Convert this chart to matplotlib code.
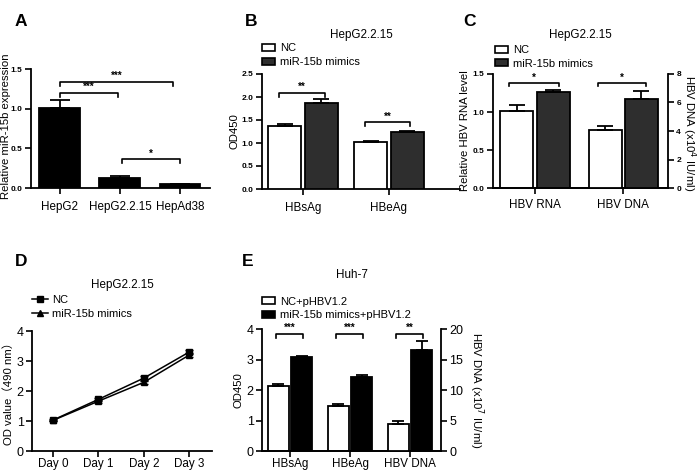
import numpy as np
import matplotlib
matplotlib.use("Agg")
import matplotlib.pyplot as plt
from matplotlib.patches import Patch
from matplotlib.lines import Line2D

plt.rcParams["font.family"] = ["Liberation Sans", "Noto Sans CJK SC", "DejaVu Sans"]

W, H = 697, 473

# ---- data ----
a_cats = ["HepG2", "HepG2.2.15", "HepAd38"]
a_vals = [1.01, 0.125, 0.046]
a_errs = [0.095, 0.02, 0.008]

b_cats = ["HBsAg", "HBeAg"]
b_nc = [1.38, 1.03]
b_nc_err = [0.04, 0.02]
b_mim = [1.87, 1.23]
b_mim_err = [0.08, 0.03]

c_cats = ["HBV RNA", "HBV DNA"]
c_rna_nc, c_rna_nc_err = 1.01, 0.08
c_rna_mim, c_rna_mim_err = 1.26, 0.03
c_dna_nc, c_dna_nc_err = 4.08, 0.25
c_dna_mim, c_dna_mim_err = 6.25, 0.55

d_days = ["Day 0", "Day 1", "Day 2", "Day 3"]
d_nc = [1.03, 1.72, 2.43, 3.30]
d_nc_err = [0.03, 0.06, 0.06, 0.08]
d_mim = [1.02, 1.66, 2.29, 3.20]
d_mim_err = [0.03, 0.05, 0.06, 0.07]

e_cats = ["HBsAg", "HBeAg", "HBV DNA"]
e_nc = [2.12, 1.48]
e_nc_err = [0.09, 0.05]
e_mim = [3.08, 2.44]
e_mim_err = [0.05, 0.05]
e_dna_nc, e_dna_nc_err = 4.45, 0.5
e_dna_mim, e_dna_mim_err = 16.5, 1.6

DARK = "#2e2e2e"


def rect(l, t, r, b):
    return [l / W, 1 - b / H, (r - l) / W, (b - t) / H]


def style(ax, right=False, tsize=6, bold=True, xpad=5):
    ax.spines["top"].set_visible(False)
    if not right:
        ax.spines["right"].set_visible(False)
    for s in ax.spines.values():
        s.set_linewidth(1.3)
    ax.tick_params(direction="out", length=4, width=1.2, labelsize=tsize, pad=2)
    ax.tick_params(axis="x", labelsize=8.4, pad=xpad)
    if bold:
        for lb in ax.get_yticklabels():
            lb.set_fontweight("bold")


def bracket(ax, x0, x1, y, drop, stars, fs=7):
    ax.plot([x0, x0, x1, x1], [y - drop, y, y, y - drop], color="black", lw=1.2,
            clip_on=False, zorder=5)
    ax.annotate(stars, ((x0 + x1) / 2, y), xytext=(0, 0.5), textcoords="offset points",
                ha="center", va="bottom", fontsize=fs, fontweight="bold")


def ebar(ax, x, y, err, cap):
    ax.errorbar(x, y, yerr=[[0] * len(np.atleast_1d(y)), np.atleast_1d(err)], fmt="none",
                ecolor="black", elinewidth=1.3, capsize=cap, capthick=1.3, zorder=4)


def box_legend(ax, labels, colors, y_anchor, x_anchor=0.0):
    ax.legend(handles=[Patch(facecolor=c, edgecolor="black", lw=1.2, label=l)
                       for l, c in zip(labels, colors)],
              loc="lower left", bbox_to_anchor=(x_anchor, y_anchor), frameon=False,
              fontsize=8, handlelength=1.2, handleheight=0.6, handletextpad=0.45,
              labelspacing=0.35, borderaxespad=0, borderpad=0)


fig = plt.figure(figsize=(W / 100, H / 100), dpi=100)

# ---------- A ----------
ax = fig.add_axes(rect(31, 69, 210, 188))
xa = np.arange(3)
ax.bar(xa, a_vals, width=0.68, color="black", edgecolor="black", lw=1.3, zorder=3)
ebar(ax, xa, a_vals, a_errs, 7)
ax.set_xlim(-0.48, 2.5)
ax.set_ylim(0, 1.5)
ax.set_yticks([0, 0.5, 1.0, 1.5])
ax.set_yticklabels(["0.0", "0.5", "1.0", "1.5"])
ax.set_xticks(xa)
ax.set_xticklabels(a_cats)
ax.set_ylabel("Relative miR-15b expression", fontsize=8.2, va="center")
ax.yaxis.set_label_coords(-0.14, 0.52)
style(ax, xpad=5)
bracket(ax, 0, 1.88, 1.34, 0.05, "***")
bracket(ax, 0, 0.97, 1.20, 0.05, "***")
bracket(ax, 1.03, 2.0, 0.365, 0.05, "*")
fig.text(21 / W, 1 - 21 / H, "A", fontsize=12.5, fontweight="bold", va="center", ha="center")

# ---------- B ----------
ax = fig.add_axes(rect(262, 74, 460, 189))
xb = np.arange(2)
bw, off = 0.384, 0.215
ax.bar(xb - off, b_nc, width=bw, color="white", edgecolor="black", lw=1.3, zorder=3)
ax.bar(xb + off, b_mim, width=bw, color=DARK, edgecolor="black", lw=1.3, zorder=3)
ebar(ax, xb - off, b_nc, b_nc_err, 5.5)
ebar(ax, xb + off, b_mim, b_mim_err, 5.5)
ax.set_xlim(-0.477, 1.826)
ax.set_ylim(0, 2.5)
ax.set_yticks([0, 0.5, 1.0, 1.5, 2.0, 2.5])
ax.set_yticklabels(["0.0", "0.5", "1.0", "1.5", "2.0", "2.5"])
ax.set_xticks(xb)
ax.set_xticklabels(b_cats)
ax.set_ylabel("OD450", fontsize=8.2, labelpad=2)
style(ax, xpad=5)
bracket(ax, -0.28, 0.25, 2.09, 0.09, "**")
bracket(ax, 1 - 0.28, 1.25, 1.45, 0.07, "**")
ax.set_title("HepG2.2.15", fontsize=8.4, pad=26)
box_legend(ax, ["NC", "miR-15b mimics"], ["white", DARK], 1.06)
fig.text(251 / W, 1 - 21 / H, "B", fontsize=12.5, fontweight="bold", va="center", ha="center")

# ---------- C ----------
ax = fig.add_axes(rect(493, 74, 668, 188))
ax2 = ax.twinx()
bw, off = 0.375, 0.205
ax.bar([0 - off], [c_rna_nc], width=bw, color="white", edgecolor="black", lw=1.3, zorder=3)
ax.bar([0 + off], [c_rna_mim], width=bw, color=DARK, edgecolor="black", lw=1.3, zorder=3)
ebar(ax, [0 - off], [c_rna_nc], [c_rna_nc_err], 5.5)
ebar(ax, [0 + off], [c_rna_mim], [c_rna_mim_err], 5.5)
ax2.bar([1 - off], [c_dna_nc], width=bw, color="white", edgecolor="black", lw=1.3, zorder=3)
ax2.bar([1 + off], [c_dna_mim], width=bw, color=DARK, edgecolor="black", lw=1.3, zorder=3)
ebar(ax2, [1 - off], [c_dna_nc], [c_dna_nc_err], 5.5)
ebar(ax2, [1 + off], [c_dna_mim], [c_dna_mim_err], 5.5)
ax.set_xlim(-0.477, 1.51)
ax.set_ylim(0, 1.5)
ax2.set_ylim(0, 8)
ax.set_yticks([0, 0.5, 1.0, 1.5])
ax.set_yticklabels(["0.0", "0.5", "1.0", "1.5"])
ax2.set_yticks([0, 2, 4, 6, 8])
ax.set_xticks([0, 1])
ax.set_xticklabels(c_cats)
ax.set_ylabel("Relative HBV RNA level", fontsize=8.2, labelpad=2)
ax2.set_ylabel("HBV DNA (x10$^4$ IU/ml)", fontsize=8.2, rotation=270, va="center", ha="center")
ax2.yaxis.set_label_coords((689 - 668) / 175 + 1, 0.48)
style(ax, xpad=4)
style(ax2, right=True, xpad=4)
ax2.spines["left"].set_visible(False)
for lb in ax2.get_yticklabels():
    lb.set_fontweight("bold")
bracket(ax, -0.3, 0.27, 1.38, 0.04, "*")
bracket(ax, 0.72, 1.26, 1.38, 0.04, "*")
ax.set_title("HepG2.2.15", fontsize=8.4, pad=26)
box_legend(ax, ["NC", "miR-15b mimics"], ["white", DARK], 1.045, 0.01)
fig.text(470 / W, 1 - 21 / H, "C", fontsize=12.5, fontweight="bold", va="center", ha="center")

# ---------- D ----------
ax = fig.add_axes(rect(32, 331, 212, 451))
xd = np.arange(4)
ax.errorbar(xd, d_nc, yerr=d_nc_err, color="black", marker="s", ms=5, lw=1.1,
            capsize=3, elinewidth=1.1, zorder=3)
ax.errorbar(xd, d_mim, yerr=d_mim_err, color="black", marker="^", ms=5, lw=1.1,
            capsize=3, elinewidth=1.1, zorder=3)
ax.set_xlim(-0.46, 3.5)
ax.set_ylim(0, 4)
ax.set_yticks([0, 1, 2, 3, 4])
ax.set_xticks(xd)
ax.set_xticklabels(d_days)
ax.set_ylabel("OD value（490 nm）", fontsize=8.2, labelpad=2)
style(ax, tsize=9, bold=False, xpad=1)
ax.set_title("HepG2.2.15", fontsize=8.4, pad=31)
ax.legend(handles=[Line2D([], [], color="black", marker="s", ms=5, lw=1.1, label="NC"),
                   Line2D([], [], color="black", marker="^", ms=5, lw=1.1, label="miR-15b mimics")],
          loc="lower left", bbox_to_anchor=(0.0, 1.1), frameon=False, fontsize=8,
          handlelength=1.4, handletextpad=0.4, labelspacing=0.35,
          borderaxespad=0, borderpad=0)
fig.text(21 / W, 1 - 261 / H, "D", fontsize=12.5, fontweight="bold", va="center", ha="center")

# ---------- E ----------
ax = fig.add_axes(rect(262, 329, 441, 451))
ax2 = ax.twinx()
xe = np.arange(2)
bw, off = 0.35, 0.195
ax.bar(xe - off, e_nc, width=bw, color="white", edgecolor="black", lw=1.3, zorder=3)
ax.bar(xe + off, e_mim, width=bw, color="black", edgecolor="black", lw=1.3, zorder=3)
ebar(ax, xe - off, e_nc, e_nc_err, 4.5)
ebar(ax, xe + off, e_mim, e_mim_err, 4.5)
ax2.bar([2 - off], [e_dna_nc], width=bw, color="white", edgecolor="black", lw=1.3, zorder=3)
ax2.bar([2 + off], [e_dna_mim], width=bw, color="black", edgecolor="black", lw=1.3, zorder=3)
ebar(ax2, [2 - off], [e_dna_nc], [e_dna_nc_err], 4.5)
ebar(ax2, [2 + off], [e_dna_mim], [e_dna_mim_err], 4.5)
ax.set_xlim(-0.467, 2.517)
ax.set_ylim(0, 4)
ax2.set_ylim(0, 20)
ax.set_yticks([0, 1, 2, 3, 4])
ax2.set_yticks([0, 5, 10, 15, 20])
ax.set_xticks([0, 1, 2])
ax.set_xticklabels(e_cats)
ax.set_ylabel("OD450", fontsize=8.2, labelpad=2)
ax2.set_ylabel("HBV DNA (x10$^7$ IU/ml)", fontsize=8.2, rotation=270, va="center", ha="center")
ax2.yaxis.set_label_coords((476 - 441) / 179 + 1, 0.5)
style(ax, tsize=9, bold=False, xpad=1)
style(ax2, right=True, tsize=9, bold=False, xpad=1)
ax2.spines["left"].set_visible(False)
for i in range(3):
    bracket(ax, i - 0.23, i + 0.22, 3.85, 0.13, ["***", "***", "**"][i])
ax.set_title("Huh-7", fontsize=8.4, pad=37)
box_legend(ax, ["NC+pHBV1.2", "miR-15b mimics+pHBV1.2"], ["white", "black"], 1.07)
fig.text(248 / W, 1 - 261 / H, "E", fontsize=12.5, fontweight="bold", va="center", ha="center")

fig.savefig("out.png", dpi=100)
